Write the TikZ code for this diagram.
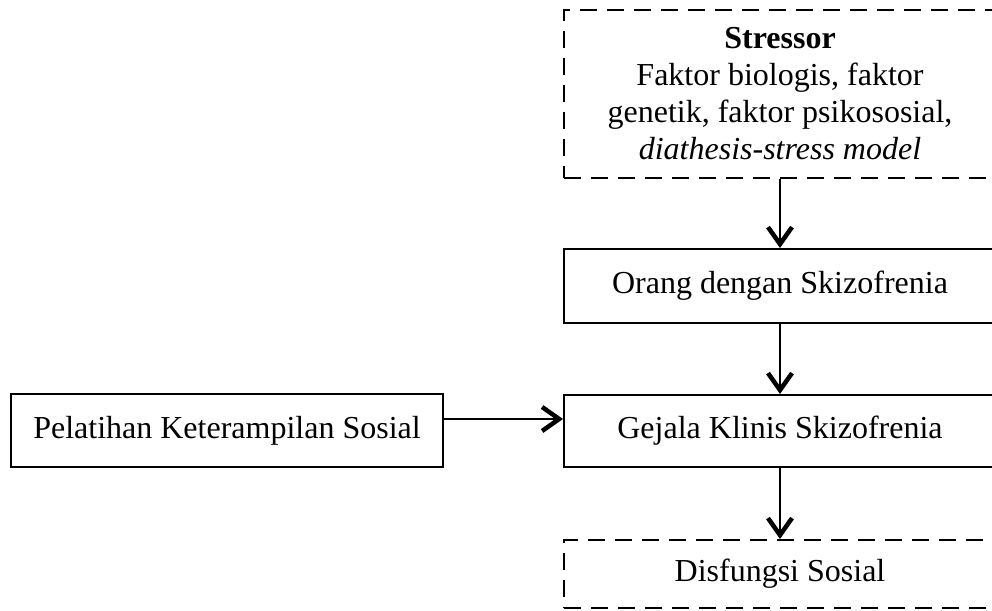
\documentclass[tikz,border=0pt]{standalone}
\usepackage{fontspec}
\setmainfont{Liberation Serif}
\usetikzlibrary{arrows.meta}
\begin{document}
\begin{tikzpicture}[x=1pt,y=-1pt,
  box/.style={draw=black,line width=2pt,rectangle,minimum width=432pt,inner sep=0pt,align=center,font=\fontsize{32}{37}\selectfont},
  dbox/.style={box,dash pattern=on 17pt off 10pt},
  arr/.style={line width=2pt,-{Straight Barb[length=17pt,width=24pt,line width=4.5pt]}}]
\useasboundingbox (0,0) rectangle (992,610);
\node[dbox,minimum height=168pt] (stress) at (780,94) {\textbf{Stressor}\\Faktor biologis, faktor\\genetik, faktor psikososial,\\\textit{diathesis-stress model}};
\node[box,minimum height=74pt] (orang) at (780,286) {Orang dengan Skizofrenia};
\node[box,minimum height=72pt] (gejala) at (780,431) {Gejala Klinis Skizofrenia};
\node[dbox,minimum height=68pt] (disf) at (780,574) {Disfungsi Sosial};
\node[box,minimum height=73pt] (pel) at (227,430.5) {Pelatihan Keterampilan Sosial};
\draw[arr] (stress) -- (orang);
\draw[arr] (orang) -- (gejala);
\draw[arr] (gejala) -- (disf);
\draw[arr] ([yshift=11.5pt]pel.east) -- ([yshift=11.5pt]pel.east -| gejala.west);
\end{tikzpicture}
\end{document}
